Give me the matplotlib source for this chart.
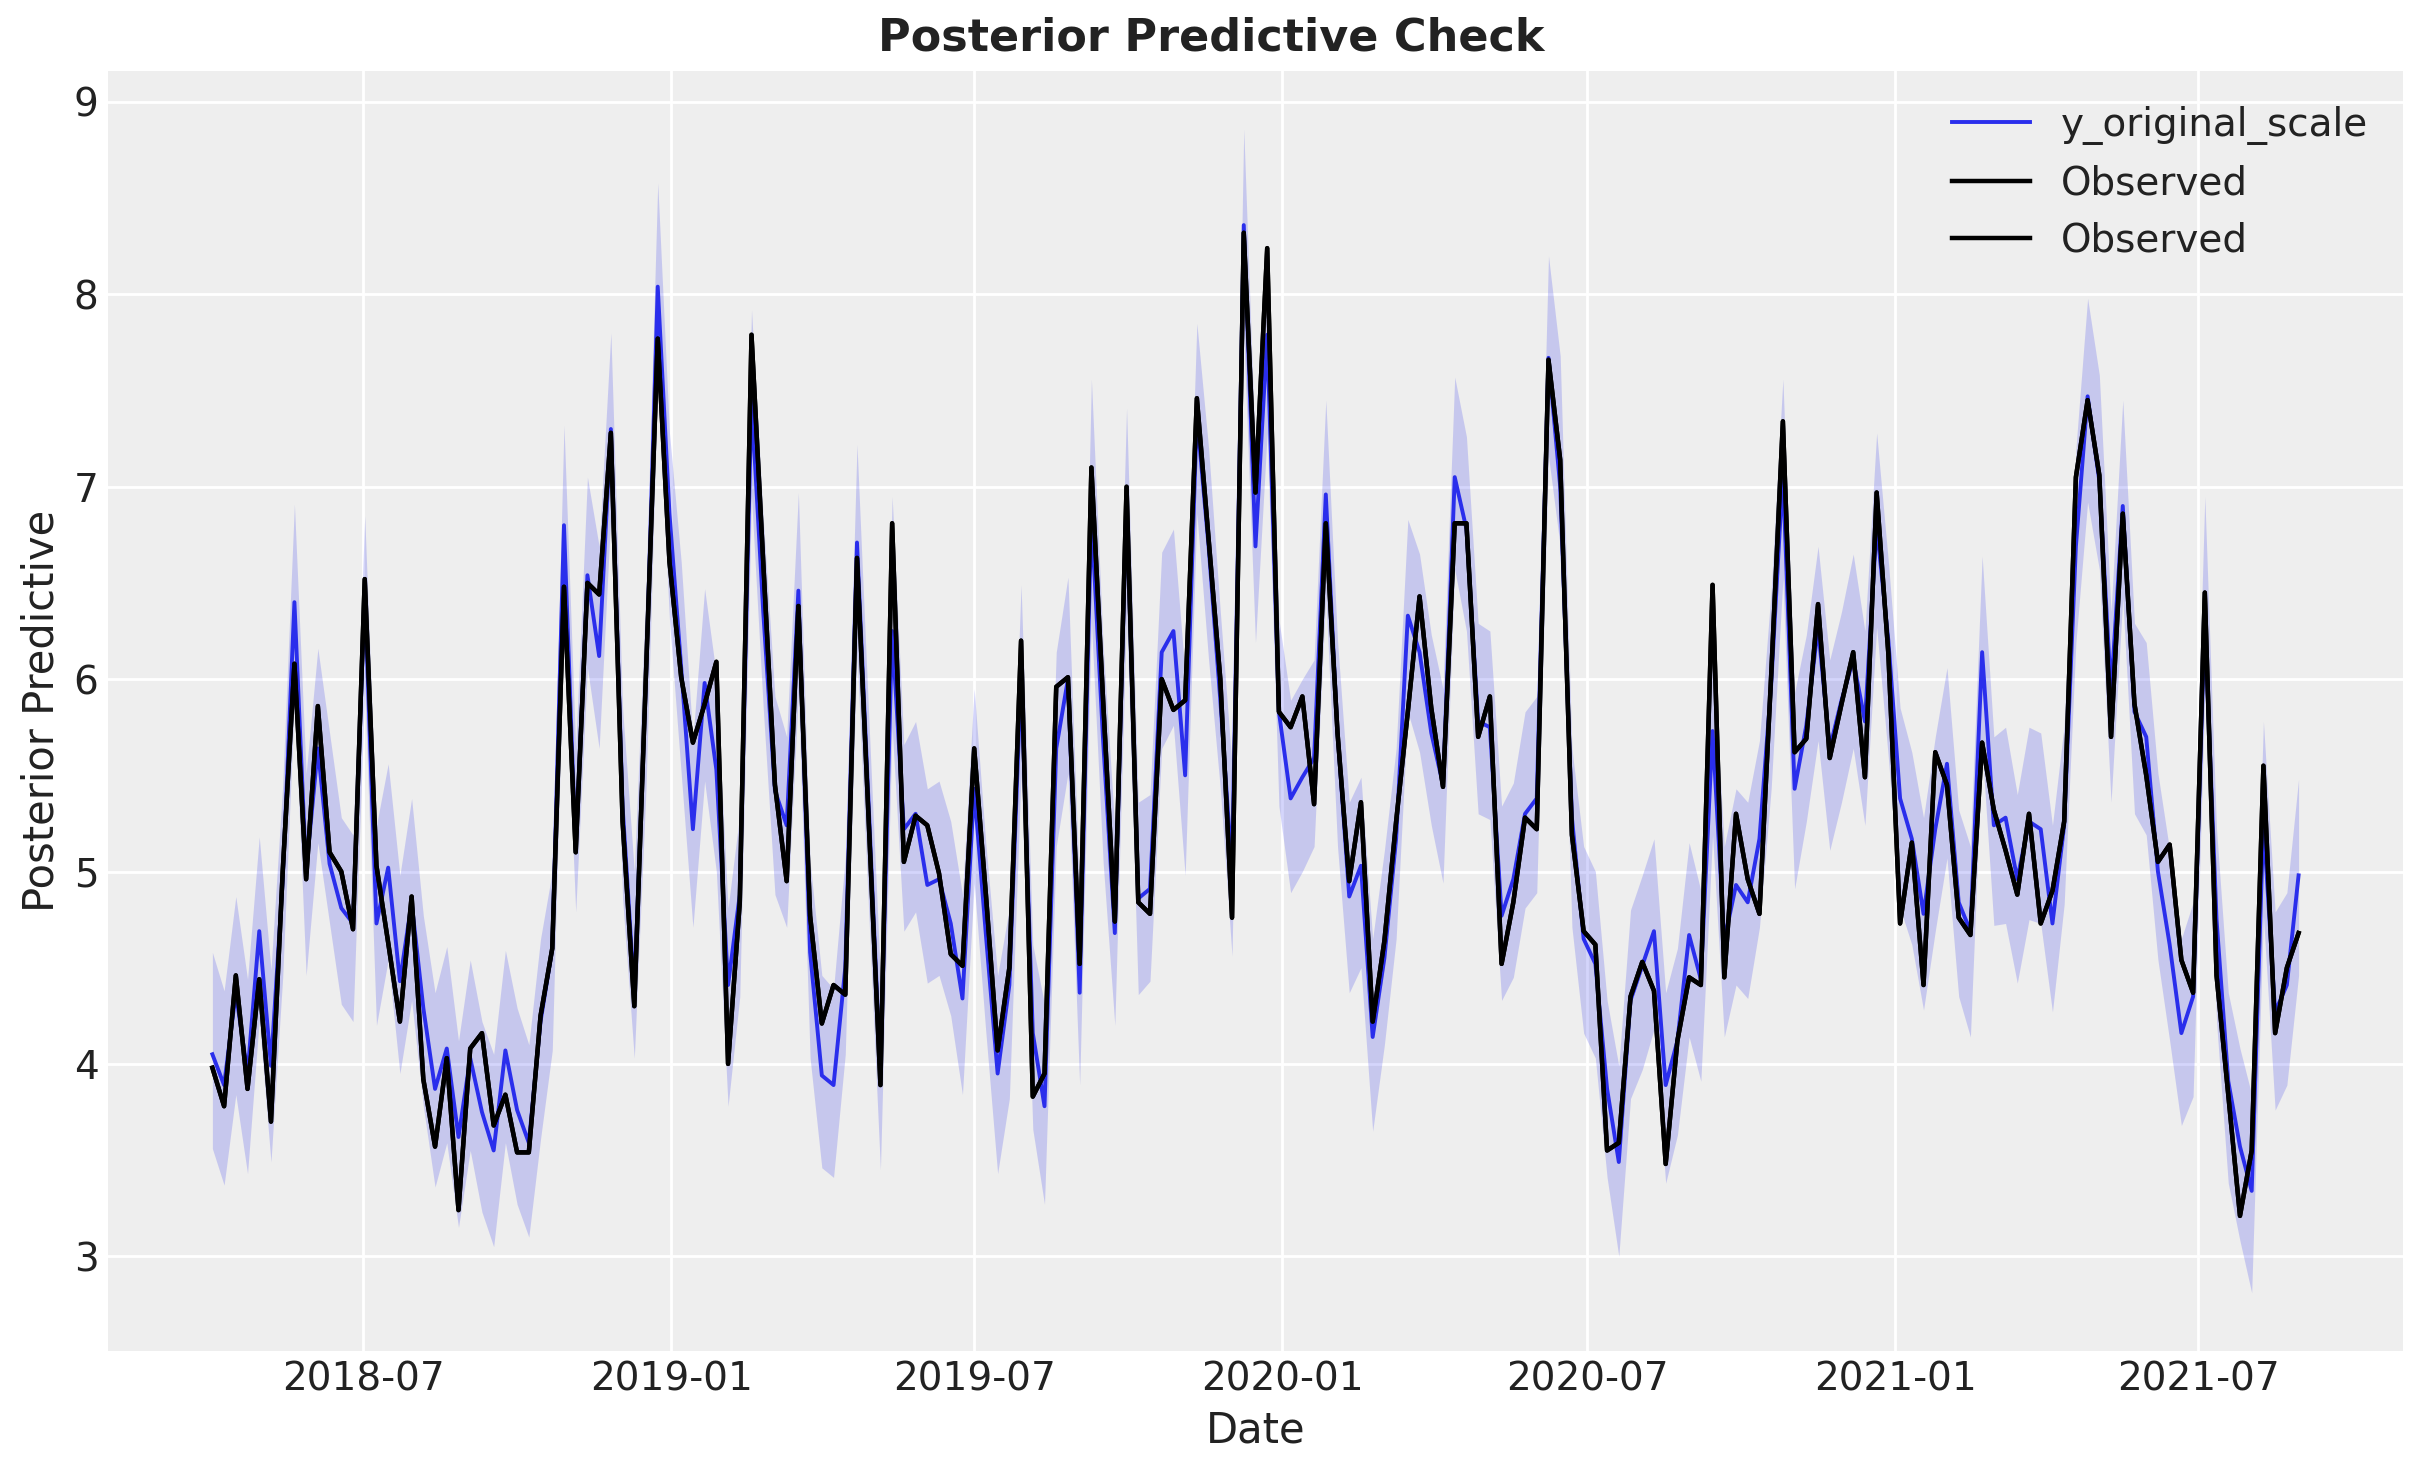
import matplotlib
matplotlib.use("Agg")
import matplotlib.pyplot as plt
import matplotlib.dates as mdates
import numpy as np
import pandas as pd

# weekly dates, 179 weeks starting 2018-04-02
dates = pd.date_range("2018-04-02", periods=179, freq="7D")

observed = [
    3.98, 3.78, 4.46, 3.87, 4.44, 3.70, 5.00, 6.08, 4.96, 5.86,
    5.10, 5.00, 4.70, 6.52, 5.03, 4.63, 4.22, 4.87, 3.92, 3.57,
    4.03, 3.24, 4.08, 4.16, 3.68, 3.84, 3.54, 3.54, 4.25, 4.60,
    6.48, 5.10, 6.50, 6.44, 7.28, 5.26, 4.30, 6.03, 7.77, 6.61,
    6.01, 5.67, 5.87, 6.09, 4.00, 4.84, 7.79, 6.61, 5.45, 4.95,
    6.38, 4.77, 4.21, 4.41, 4.36, 6.63, 5.26, 3.89, 6.81, 5.05,
    5.29, 5.24, 4.99, 4.57, 4.51, 5.64, 4.88, 4.07, 4.50, 6.20,
    3.83, 3.95, 5.96, 6.01, 4.52, 7.10, 5.89, 4.74, 7.00, 4.84,
    4.78, 6.00, 5.84, 5.89, 7.46, 6.73, 6.00, 4.76, 8.32, 6.97,
    8.24, 5.83, 5.75, 5.91, 5.35, 6.81, 5.72, 4.95, 5.36, 4.22,
    4.64, 5.26, 5.83, 6.43, 5.85, 5.44, 6.81, 6.81, 5.70, 5.91,
    4.52, 4.84, 5.28, 5.22, 7.66, 7.14, 5.19, 4.69, 4.62, 3.55,
    3.59, 4.35, 4.53, 4.38, 3.48, 4.12, 4.45, 4.41, 6.49, 4.45,
    5.30, 4.96, 4.78, 6.02, 7.34, 5.62, 5.69, 6.39, 5.59, 5.87,
    6.14, 5.49, 6.97, 6.13, 4.73, 5.15, 4.41, 5.62, 5.45, 4.76,
    4.67, 5.67, 5.32, 5.11, 4.88, 5.30, 4.73, 4.90, 5.26, 7.05,
    7.45, 7.06, 5.70, 6.86, 5.87, 5.50, 5.05, 5.14, 4.54, 4.37,
    6.45, 4.46, 3.84, 3.21, 3.55, 5.55, 4.16, 4.50, 4.68,
]

pred_mean = [
    4.05, 3.89, 4.37, 3.95, 4.69, 3.99, 4.95, 6.40, 5.00, 5.64,
    5.04, 4.81, 4.73, 6.45, 4.73, 5.02, 4.43, 4.84, 4.29, 3.87,
    4.08, 3.62, 4.03, 3.75, 3.55, 4.07, 3.76, 3.59, 4.22, 4.60,
    6.80, 5.11, 6.54, 6.12, 7.30, 5.34, 4.37, 6.00, 8.04, 6.86,
    6.06, 5.22, 5.98, 5.53, 4.41, 4.88, 7.45, 6.35, 5.42, 5.24,
    6.46, 4.58, 3.94, 3.89, 4.50, 6.71, 5.34, 3.95, 6.25, 5.22,
    5.30, 4.93, 4.96, 4.73, 4.34, 5.43, 4.67, 3.95, 4.41, 6.02,
    4.16, 3.78, 5.64, 6.00, 4.37, 6.85, 5.68, 4.68, 6.94, 4.86,
    4.91, 6.14, 6.25, 5.50, 7.37, 6.69, 5.89, 5.00, 8.36, 6.69,
    7.79, 5.83, 5.38, 5.49, 5.59, 6.96, 5.72, 4.87, 5.03, 4.14,
    4.55, 5.17, 6.33, 6.14, 5.72, 5.45, 7.05, 6.78, 5.78, 5.75,
    4.77, 4.96, 5.30, 5.38, 7.67, 7.00, 5.28, 4.65, 4.52, 3.87,
    3.49, 4.33, 4.51, 4.69, 3.89, 4.12, 4.67, 4.44, 5.73, 4.64,
    4.93, 4.84, 5.17, 5.97, 7.07, 5.43, 5.76, 6.27, 5.64, 5.89,
    6.10, 5.78, 6.80, 6.20, 5.38, 5.17, 4.78, 5.22, 5.56, 4.84,
    4.69, 6.14, 5.24, 5.28, 4.96, 5.26, 5.22, 4.73, 5.24, 6.69,
    7.47, 7.03, 5.93, 6.90, 5.83, 5.70, 5.00, 4.62, 4.16, 4.35,
    6.31, 4.75, 3.91, 3.57, 3.34, 5.26, 4.27, 4.41, 4.98,
]

hdi_high = [
    4.58, 4.38, 4.87, 4.44, 5.18, 4.49, 5.45, 6.91, 5.51, 6.16,
    5.72, 5.28, 5.19, 6.85, 5.24, 5.56, 4.98, 5.38, 4.77, 4.37,
    4.61, 4.12, 4.54, 4.22, 4.05, 4.59, 4.29, 4.10, 4.65, 5.00,
    7.32, 5.64, 7.05, 6.69, 7.80, 5.85, 5.00, 6.48, 8.58, 7.28,
    6.61, 5.69, 6.47, 6.02, 4.81, 5.30, 7.92, 6.84, 5.91, 5.70,
    6.97, 5.05, 4.46, 4.39, 5.07, 7.22, 5.81, 4.45, 6.95, 5.66,
    5.78, 5.43, 5.47, 5.26, 4.88, 5.95, 5.14, 4.46, 4.81, 6.49,
    4.62, 4.31, 6.14, 6.53, 4.88, 7.56, 6.18, 5.22, 7.41, 5.36,
    5.40, 6.66, 6.78, 6.02, 7.85, 7.20, 6.35, 5.55, 8.86, 7.16,
    8.27, 6.31, 5.89, 6.00, 6.10, 7.45, 6.20, 5.36, 5.49, 4.65,
    5.11, 5.64, 6.83, 6.65, 6.23, 5.95, 7.57, 7.26, 6.29, 6.25,
    5.34, 5.46, 5.83, 5.91, 8.20, 7.68, 5.64, 5.13, 5.00, 4.33,
    3.99, 4.80, 4.98, 5.17, 4.37, 4.60, 5.15, 4.90, 6.19, 5.13,
    5.43, 5.36, 5.68, 6.46, 7.56, 5.93, 6.23, 6.69, 6.10, 6.35,
    6.65, 6.25, 7.28, 6.61, 5.85, 5.62, 5.28, 5.70, 6.06, 5.32,
    5.13, 6.64, 5.70, 5.75, 5.40, 5.75, 5.72, 5.24, 5.76, 7.20,
    7.98, 7.58, 6.35, 7.45, 6.29, 6.19, 5.51, 5.11, 4.65, 4.84,
    6.95, 5.22, 4.37, 4.08, 3.84, 5.78, 4.79, 4.89, 5.48,
]

hdi_low = [
    3.56, 3.37, 3.84, 3.43, 4.23, 3.49, 4.45, 5.90, 4.46, 5.15,
    4.73, 4.31, 4.22, 5.95, 4.20, 4.54, 3.95, 4.33, 3.78, 3.36,
    3.59, 3.15, 3.55, 3.23, 3.05, 3.59, 3.27, 3.10, 3.61, 4.07,
    6.27, 4.79, 6.06, 5.64, 6.86, 4.86, 4.03, 5.43, 7.54, 6.31,
    5.51, 4.71, 5.47, 5.00, 3.78, 4.35, 6.95, 5.85, 4.88, 4.71,
    5.93, 4.03, 3.46, 3.41, 4.05, 6.14, 4.79, 3.45, 5.75, 4.69,
    4.79, 4.42, 4.46, 4.25, 3.84, 4.94, 4.16, 3.43, 3.82, 5.51,
    3.66, 3.27, 5.13, 5.51, 3.89, 6.30, 5.05, 4.20, 6.35, 4.36,
    4.43, 5.64, 5.76, 4.98, 6.86, 6.10, 5.43, 4.56, 7.79, 6.19,
    7.28, 5.34, 4.89, 5.00, 5.13, 6.44, 5.13, 4.37, 4.50, 3.65,
    4.10, 4.65, 5.83, 5.62, 5.24, 4.94, 6.57, 6.25, 5.30, 5.27,
    4.33, 4.45, 4.81, 4.89, 7.16, 6.69, 4.71, 4.16, 4.03, 3.41,
    3.00, 3.82, 3.97, 4.18, 3.38, 3.63, 4.14, 3.91, 5.19, 4.14,
    4.41, 4.34, 4.71, 5.43, 6.52, 4.91, 5.26, 5.68, 5.11, 5.36,
    5.64, 5.24, 6.27, 5.59, 4.81, 4.62, 4.28, 4.69, 5.07, 4.35,
    4.14, 5.64, 4.72, 4.73, 4.42, 4.75, 4.73, 4.27, 4.83, 6.19,
    6.92, 6.57, 5.36, 6.42, 5.30, 5.19, 4.54, 4.12, 3.68, 3.83,
    5.93, 4.22, 3.38, 3.08, 2.81, 4.77, 3.76, 3.89, 4.46,
]

plt.rcParams.update({
    "font.family": "DejaVu Sans",
    "axes.facecolor": "#eeeeee",
    "axes.edgecolor": "white",
    "axes.grid": True,
    "grid.color": "white",
    "grid.linewidth": 1.0,
    "xtick.major.size": 0,
    "ytick.major.size": 0,
    "xtick.labelsize": 14,
    "ytick.labelsize": 14,
    "axes.labelsize": 15,
    "text.color": "#222222",
    "xtick.color": "#222222",
    "ytick.color": "#222222",
    "axes.labelcolor": "#222222",
})

blue = "#2a2eec"

fig, ax = plt.subplots(figsize=(12.115, 7.365), dpi=200)
fig.subplots_adjust(left=0.0446, right=0.9917, top=0.952, bottom=0.0828)

ax.fill_between(dates, hdi_low, hdi_high, color=blue, alpha=0.2, linewidth=0)
ax.plot(dates, pred_mean, color=blue, lw=1.4, label="y_original_scale")
ax.plot(dates, observed, color="black", lw=1.6, label="Observed")
ax.plot(dates, observed, color="black", lw=1.6, label="Observed")

for s in ax.spines.values():
    s.set_visible(False)

ax.xaxis.set_major_locator(mdates.MonthLocator(bymonth=[1, 7]))
ax.xaxis.set_major_formatter(mdates.DateFormatter("%Y-%m"))
ax.set_axisbelow(True)

fig.suptitle("Posterior Predictive Check", fontsize=16, fontweight="bold",
             x=0.5, y=0.974, va="center")
ax.set_xlabel("Date")
ax.set_ylabel("Posterior Predictive")
ax.legend(loc="upper right", frameon=False, fontsize=14)

fig.savefig("out.png", dpi=200)
